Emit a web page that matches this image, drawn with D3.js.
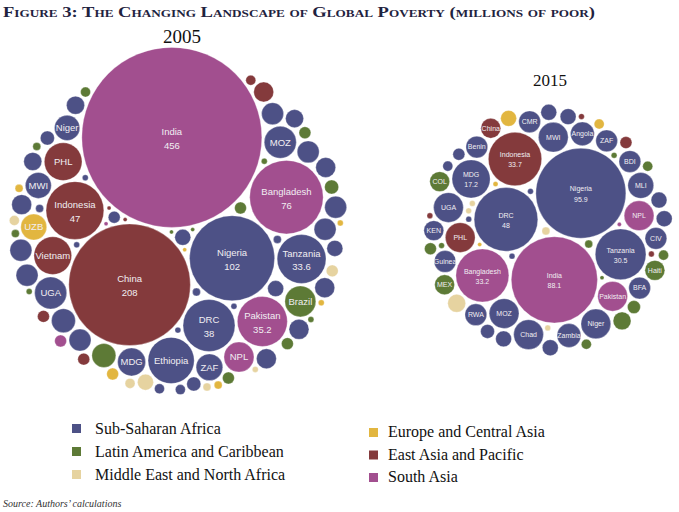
<!DOCTYPE html>
<html><head><meta charset="utf-8">
<script src="https://cdn.jsdelivr.net/npm/d3@7"></script>
<style>body{margin:0;background:#fff}svg{display:block}</style>
</head><body>
<svg id="c" width="679" height="512"></svg>
<script>
// ---------- DATA ----------
const regionKeys = ["SSA","LAC","MENA","ECA","EAP","SA"];
const regionNames = ["Sub-Saharan Africa","Latin America and Caribbean","Middle East and North Africa","Europe and Central Asia","East Asia and Pacific","South Asia"];
const regionColors = ["#4d5186","#5d7a36","#e6d3a0","#e2b640","#843a3c","#a24f8f"];

// 2005 (millions of poor)
const countries2005 = ["India","China","Nigeria","Bangladesh","Indonesia","DRC","Pakistan","Tanzania","Ethiopia","Vietnam","PHL","MOZ","UGA","Brazil","NPL","MDG","ZAF","UZB","MWI","Niger",
 "KEN","BDI","BFA","MLI","TCD","AGO","GIN","ZMB","CIV","BEN","RWA","CMR","SDN","GHA","SEN","SLE","ZWE","SOM","CAF","TGO","LBR","SSD","ERI","LSO","GMB","NAM","BWA","SWZ","GNB","MRT","COG",
 "MEX","COL","HTI","GTM","HND","PER","BOL","ARG","ECU","NIC","VEN","DOM","PRY","SLV",
 "EGY","YEM","MAR","IRQ","SYR","DZA",
 "TJK","KGZ","TUR","GEO","ARM","ROU",
 "MMR","PNG","KHM","LAO","TLS","MNG",
 "AFG","LKA"];
const regions2005 = ["SA","EAP","SSA","SA","EAP","SSA","SA","SSA","SSA","EAP","EAP","SSA","SSA","LAC","SA","SSA","SSA","ECA","SSA","SSA",
 "SSA","SSA","SSA","SSA","SSA","SSA","SSA","SSA","SSA","SSA","SSA","SSA","SSA","SSA","SSA","SSA","SSA","SSA","SSA","SSA","SSA","SSA","SSA","SSA","SSA","SSA","SSA","SSA","SSA","SSA","SSA",
 "LAC","LAC","LAC","LAC","LAC","LAC","LAC","LAC","LAC","LAC","LAC","LAC","LAC","LAC",
 "MENA","MENA","MENA","MENA","MENA","MENA",
 "ECA","ECA","ECA","ECA","ECA","ECA",
 "EAP","EAP","EAP","EAP","EAP","EAP",
 "SA","SA"];
const values2005 = [456,208,102,76,47,38,35.2,33.6,30,20,20,14.5,14.5,13.5,12.7,11,10,9.5,9.5,9,
 8.1,6.8,6.8,6.8,6.8,6.8,5.6,6.8,5.6,4.6,5.6,5.6,6.8,5.6,3.6,3.6,4.6,4.6,3.6,2.8,2.8,2.0,1.4,0.9,0.5,0.9,0.5,0.5,0.5,0.9,1.4,
 8.1,2.8,2.0,2.0,2.0,2.0,1.4,0.9,0.9,0.5,0.5,0.5,0.23,0.23,
 3.6,2.0,1.4,1.4,0.9,0.5,
 2.0,0.9,0.9,0.5,0.5,0.23,
 5.6,2.0,2.0,1.4,0.23,0.23,
 2.0,0.23];
const labelled2005 = ["India","China","Nigeria","Bangladesh","Indonesia","DRC","Pakistan","Tanzania","Ethiopia","Vietnam","PHL","MOZ","UGA","Brazil","NPL","MDG","ZAF","UZB","MWI","Niger"];
const withValue2005 = ["India","China","Nigeria","Bangladesh","Indonesia","DRC","Pakistan","Tanzania"];

// 2015 (millions of poor)
const countries2015 = ["Nigeria","India","DRC","Indonesia","Bangladesh","Tanzania","MDG","PHL","Pakistan","NPL","MOZ","MWI","UGA","Niger","Chad","MLI","Angola","Zambia","Guinea","ZAF","BDI","BFA","CIV","Benin","RWA","CMR","KEN","Haiti","MEX","China","COL",
 "ETH","SDN","SOM","ZWE","SEN","GHA","SLE","TGO","CAF","LBR","ERI","LSO",
 "UZB","TJK","KGZ","TUR",
 "EGY","YEM","MAR","IRQ","SYR",
 "BRA","GTM","HND","BOL","PER","ECU","NIC","DOM","PRY","SLV",
 "MMR","PNG","KHM","LAO",
 "AFG"];
const regions2015 = ["SSA","SA","SSA","EAP","SA","SSA","SSA","EAP","SA","SA","SSA","SSA","SSA","SSA","SSA","SSA","SSA","SSA","SSA","SSA","SSA","SSA","SSA","SSA","SSA","SSA","SSA","LAC","LAC","EAP","LAC",
 "SSA","SSA","SSA","SSA","SSA","SSA","SSA","SSA","SSA","SSA","SSA","SSA",
 "ECA","ECA","ECA","ECA",
 "MENA","MENA","MENA","MENA","MENA",
 "LAC","LAC","LAC","LAC","LAC","LAC","LAC","LAC","LAC","LAC",
 "EAP","EAP","EAP","EAP",
 "SA"];
const values2015 = [95.9,88.1,48,33.7,33.2,30.5,17.2,10.5,10.5,10.5,10.5,10.5,10.5,10.5,10.5,7.9,6.7,6.7,5.6,5.6,5.6,5.6,5.6,5.6,5.6,5.6,4.7,4.7,4.7,4.7,4.7,
 3.0,3.0,3.0,3.0,3.0,3.0,2.3,1.7,1.2,0.4,0.4,0.4,
 3.0,1.2,0.3,0.2,
 3.8,0.75,0.4,0.4,0.4,
 3.8,2.0,1.7,1.2,1.2,1.2,0.75,0.4,0.4,0.2,
 1.7,0.4,0.4,0.4,
 0.2];
const labelled2015 = ["Nigeria","India","DRC","Indonesia","Bangladesh","Tanzania","MDG","PHL","Pakistan","NPL","MOZ","MWI","UGA","Niger","Chad","MLI","Angola","Zambia","Guinea","ZAF","BDI","BFA","CIV","Benin","RWA","CMR","KEN","Haiti","MEX","China","COL"];
const withValue2015 = ["Nigeria","India","DRC","Indonesia","Bangladesh","Tanzania","MDG"];

// ---------- DRAW ----------
const svg = d3.select("#c");
const color = d3.scaleOrdinal().domain(regionKeys).range(regionColors);

svg.append("text").attr("x",3).attr("y",17)
  .attr("font-family","Liberation Serif, DejaVu Serif, serif").attr("font-weight","bold")
  .attr("font-size",15.5).attr("fill","#1f2340").style("font-variant","small-caps")
  .attr("textLength",592).attr("lengthAdjust","spacingAndGlyphs")
  .text("Figure 3: The Changing Landscape of Global Poverty (millions of poor)");

// greedy compact packing: each circle (largest first) goes to the free tangent spot nearest an anchor;
// the anchor is the centre of the three largest circles once they are placed
function greedyPack(nodes, pad){
  const placed = [];
  let anchor=null;
  nodes.forEach((n,k)=>{
    if(k===0){n.x=0;n.y=0;placed.push(n);return;}
    let cx,cy;
    if(anchor){[cx,cy]=anchor;}
    else{
      let w=0; cx=0; cy=0;
      placed.forEach(p=>{const a=p.r*p.r; cx+=p.x*a; cy+=p.y*a; w+=a;});
      cx/=w; cy/=w;
    }
    let best=null, bestD=Infinity;
    const ok=(x,y)=>placed.every(p=>Math.hypot(p.x-x,p.y-y) >= p.r+n.r+pad-1e-6);
    const consider=(x,y)=>{const d=Math.hypot(x-cx,y-cy); if(d<bestD && ok(x,y)){bestD=d;best=[x,y];}};
    if(placed.length===1){const p=placed[0]; consider(p.x, p.y+p.r+n.r+pad);}
    for(let i=0;i<placed.length;i++){
      const a=placed[i];
      for(let j=i+1;j<placed.length;j++){
        const b=placed[j];
        const ra=a.r+n.r+pad, rb=b.r+n.r+pad;
        const dx=b.x-a.x, dy=b.y-a.y, d=Math.hypot(dx,dy);
        if(d>ra+rb || d<Math.abs(ra-rb) || d===0) continue;
        const l=(ra*ra-rb*rb+d*d)/(2*d), h=Math.sqrt(Math.max(0,ra*ra-l*l));
        const mx=a.x+dx*l/d, my=a.y+dy*l/d;
        consider(mx-dy*h/d, my+dx*h/d);
        consider(mx+dy*h/d, my-dx*h/d);
      }
    }
    if(!best){const p=placed[0]; best=[p.x, p.y-(p.r+n.r+pad)];}
    n.x=best[0]; n.y=best[1]; placed.push(n);
    if(placed.length===3){anchor=[d3.mean(placed,p=>p.x), d3.mean(placed,p=>p.y)];}
  });
}

function drawPack(cfg){
  const rScale = d3.scaleSqrt().domain([0, cfg.maxV]).range([0, cfg.maxR]);
  const nodes = cfg.names.map((n,i)=>({name:n, region:cfg.regions[i], value:cfg.values[i], r:rScale(cfg.values[i])}));
  const sorted = nodes.slice().sort((a,b)=>b.value-a.value);
  greedyPack(sorted, cfg.pad);
  const A=sorted[0], B=sorted[1], C=sorted[2];
  const cur = Math.atan2(B.y-A.y, B.x-A.x);
  const a = cfg.rot*Math.PI/180 - cur;
  sorted.forEach(d=>{const x=d.x-A.x,y=d.y-A.y; d.px=x*Math.cos(a)-y*Math.sin(a); d.py=x*Math.sin(a)+y*Math.cos(a);});
  const t = cfg.rot*Math.PI/180, ux=Math.cos(t), uy=Math.sin(t);
  const crossC = ux*C.py - uy*C.px;
  if (Math.sign(crossC) !== cfg.side){
    sorted.forEach(d=>{const dot=d.px*ux+d.py*uy; d.px=2*dot*ux-d.px; d.py=2*dot*uy-d.py;});
  }
  const ext = d3.extent(sorted.flatMap(d=>[d.px-d.r,d.px+d.r]));
  const eyt = d3.extent(sorted.flatMap(d=>[d.py-d.r,d.py+d.r]));
  const ox = cfg.cx-(ext[0]+ext[1])/2, oy = cfg.cy-(eyt[0]+eyt[1])/2;
  const g = svg.append("g").attr("transform",`translate(${ox},${oy})`);
  const node = g.selectAll("g").data(sorted).join("g").attr("transform",d=>`translate(${d.px},${d.py})`);
  node.append("circle").attr("r",d=>d.r).attr("fill",d=>color(d.region))
    .attr("stroke","#ffffff").attr("stroke-opacity",0.5).attr("stroke-width",0.6);
  const lab = node.filter(d=>cfg.labelled.includes(d.name));
  lab.append("text").attr("text-anchor","middle")
    .attr("font-family","Liberation Sans, Arial, sans-serif").attr("font-size",cfg.fs)
    .attr("fill","#f1eef2")
    .attr("y",d=>cfg.withValue.includes(d.name)? -cfg.fs*0.25 : cfg.fs*0.35)
    .text(d=>d.name);
  node.filter(d=>cfg.withValue.includes(d.name)).append("text").attr("text-anchor","middle")
    .attr("font-family","Liberation Sans, Arial, sans-serif").attr("font-size",cfg.fs)
    .attr("fill","#f1eef2").attr("y",cfg.fs*1.2)
    .text(d=>d.value);
  svg.append("text").attr("x",cfg.tx).attr("y",cfg.ty).attr("text-anchor","middle")
    .attr("font-family","Liberation Serif, DejaVu Serif, serif").attr("font-size",cfg.tfs)
    .attr("fill","#111").text(cfg.title);
}

drawPack({names:countries2005, regions:regions2005, values:values2005, labelled:labelled2005, withValue:withValue2005,
  maxV:456, maxR:90, pad:2.5, rot:106, side:-1, cx:178, cy:221, fs:9.5, title:"2005", tx:182, ty:43, tfs:19});
drawPack({names:countries2015, regions:regions2015, values:values2015, labelled:labelled2015, withValue:withValue2015,
  maxV:95.9, maxR:45, pad:2.5, rot:107, side:1, cx:548, cy:230, fs:7, title:"2015", tx:550, ty:86, tfs:17});

// legend
const legL = [0,1,2], legR = [3,4,5];
const lg = svg.append("g").attr("font-family","Liberation Serif, DejaVu Serif, serif").attr("font-size",16).attr("fill","#111");
legL.forEach((k,i)=>{
  lg.append("rect").attr("x",72).attr("y",424+i*23).attr("width",9).attr("height",9).attr("fill",regionColors[k]);
  lg.append("text").attr("x",95).attr("y",434+i*23).text(regionNames[k]);
});
legR.forEach((k,i)=>{
  lg.append("rect").attr("x",369).attr("y",428+i*22.5).attr("width",9).attr("height",9).attr("fill",regionColors[k]);
  lg.append("text").attr("x",388).attr("y",437+i*22.5).text(regionNames[k]);
});
svg.append("text").attr("x",3).attr("y",507).attr("font-family","Liberation Serif, DejaVu Serif, serif")
  .attr("font-style","italic").attr("font-size",10).attr("fill","#333").text("Source: Authors’ calculations");
</script>
</body></html>
